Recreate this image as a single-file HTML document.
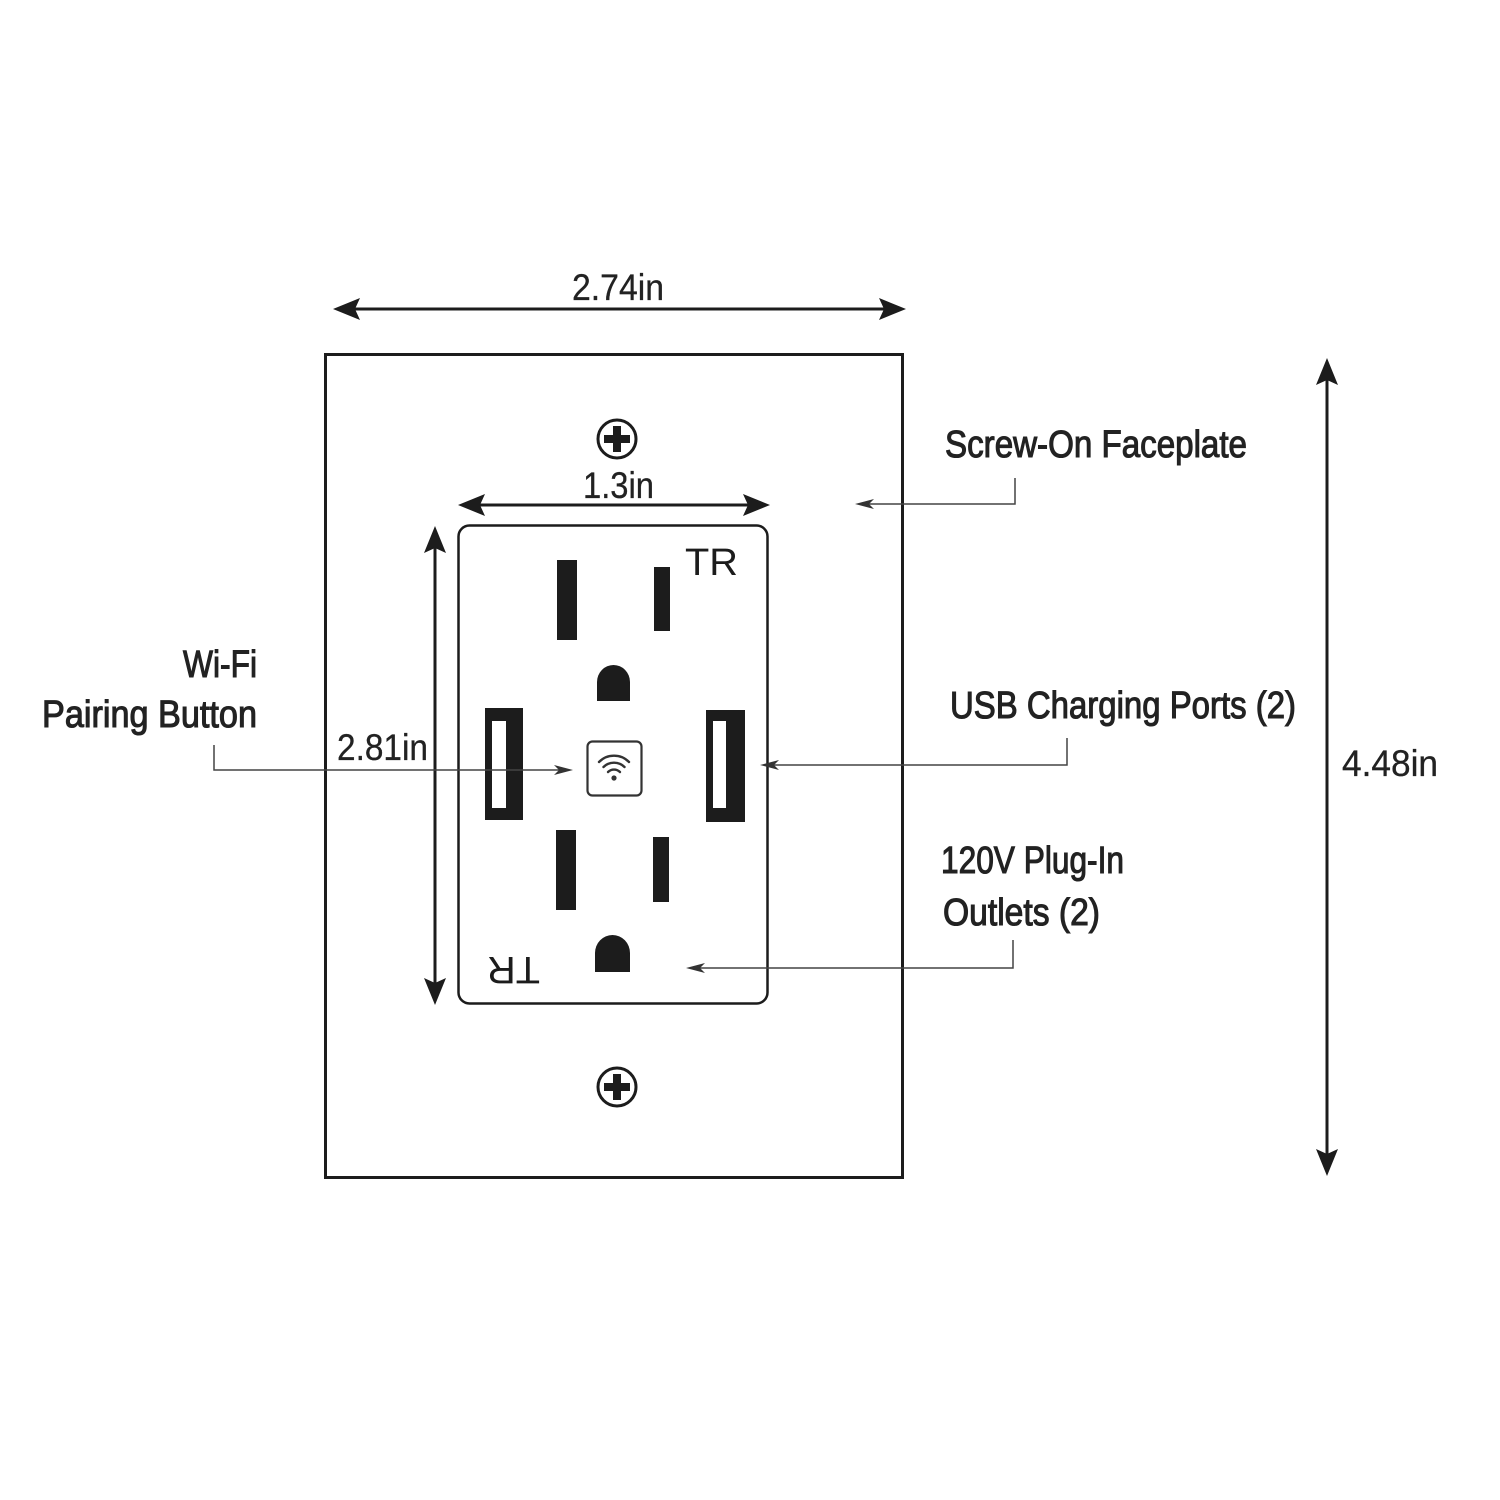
<!DOCTYPE html>
<html><head><meta charset="utf-8"><style>html,body{margin:0;padding:0;background:#fff}svg{display:block}</style></head>
<body>
<svg width="1500" height="1500" viewBox="0 0 1500 1500" xmlns="http://www.w3.org/2000/svg">
<g fill="#1c1c1c" stroke="none">
<line x1="345" y1="309" x2="894" y2="309" stroke="#1c1c1c" stroke-width="3"/>
<polygon points="333,309 360,298 355,309 360,320"/>
<polygon points="906,309 879,298 884,309 879,320"/>
<line x1="470" y1="505" x2="758" y2="505" stroke="#1c1c1c" stroke-width="3"/>
<polygon points="458,505 485,494 480,505 485,516"/>
<polygon points="770,505 743,494 748,505 743,516"/>
<line x1="1327" y1="370" x2="1327" y2="1164" stroke="#1c1c1c" stroke-width="3"/>
<polygon points="1327,358 1316,385 1327,380 1338,385"/>
<polygon points="1327,1176 1316,1149 1327,1154 1338,1149"/>
<line x1="435" y1="538" x2="435" y2="993" stroke="#1c1c1c" stroke-width="3"/>
<polygon points="435,526 424,553 435,548 446,553"/>
<polygon points="435,1005 424,978 435,983 446,978"/>
</g>
<rect x="325.5" y="354.5" width="577" height="823" fill="none" stroke="#1c1c1c" stroke-width="3"/>
<g>
<circle cx="617" cy="439" r="19" fill="none" stroke="#1c1c1c" stroke-width="3"/>
<rect x="613" y="426" width="8" height="26" fill="#1c1c1c"/><rect x="604" y="435" width="26" height="8" fill="#1c1c1c"/>
<circle cx="617" cy="1087" r="19" fill="none" stroke="#1c1c1c" stroke-width="3"/>
<rect x="613" y="1074" width="8" height="26" fill="#1c1c1c"/><rect x="604" y="1083" width="26" height="8" fill="#1c1c1c"/>
</g>
<rect x="458.5" y="525.5" width="309" height="478" rx="11" fill="none" stroke="#1c1c1c" stroke-width="2.5"/>
<g fill="#1c1c1c">
<rect x="557" y="560" width="20" height="80"/>
<rect x="654" y="567" width="16" height="64"/>
<path d="M597,701 V682 A16.5,17 0 0 1 630,682 V701 Z"/>
<rect x="556" y="830" width="20" height="80"/>
<rect x="653" y="837" width="16" height="65"/>
<path d="M595,972 V953 A17.5,18 0 0 1 630,953 V972 Z"/>
<rect x="485" y="708" width="38" height="112"/>
<rect x="706" y="710" width="39" height="112"/>
</g>
<rect x="492" y="721" width="14" height="87" fill="#fff"/>
<rect x="713" y="721" width="13" height="87" fill="#fff"/>
<rect x="587.5" y="741.5" width="54" height="54" rx="5" fill="#fff" stroke="#333" stroke-width="2.2"/>
<g fill="none" stroke="#333" stroke-width="2.4" stroke-linecap="round">
<path d="M599,762 A21,21 0 0 1 629,762"/>
<path d="M603.5,767 A15,15 0 0 1 624.5,767"/>
<path d="M608,772 A8.5,8.5 0 0 1 620,772"/>
</g>
<circle cx="614" cy="778" r="2.6" fill="#333"/>
<text x="685" y="575" font-family="Liberation Sans, sans-serif" font-size="38" fill="#1c1c1c" textLength="53" lengthAdjust="spacingAndGlyphs">TR</text>
<text transform="translate(540,955) rotate(180)" x="0" y="0" font-family="Liberation Sans, sans-serif" font-size="38" fill="#1c1c1c" textLength="53" lengthAdjust="spacingAndGlyphs" dy="-2">TR</text>
<g fill="none" stroke="#444" stroke-width="1.5">
<polyline points="1015,478 1015,504 862,504"/>
<polyline points="1067,738 1067,765 766,765"/>
<polyline points="1013,940 1013,968 692,968"/>
<polyline points="214,745 214,770 567,770"/>
</g>
<g fill="#333">
<polygon points="855,504 874,499 869,504 874,509"/>
<polygon points="760,765 779,760 774,765 779,770"/>
<polygon points="686,968 705,963 700,968 705,973"/>
<polygon points="573,770 554,765 559,770 554,775"/>
</g>
<g font-family="Liberation Sans Narrow, Liberation Sans, sans-serif" fill="#222" stroke="#222" stroke-width="1.1">
<text x="945" y="457" font-size="38" textLength="302" lengthAdjust="spacingAndGlyphs">Screw-On Faceplate</text>
<text x="950" y="718" font-size="38" textLength="346" lengthAdjust="spacingAndGlyphs">USB Charging Ports (2)</text>
<text x="941" y="873" font-size="38" textLength="183" lengthAdjust="spacingAndGlyphs">120V Plug-In</text>
<text x="943" y="925" font-size="38" textLength="157" lengthAdjust="spacingAndGlyphs">Outlets (2)</text>
<text x="183" y="677" font-size="38" textLength="74" lengthAdjust="spacingAndGlyphs">Wi-Fi</text>
<text x="42" y="727" font-size="38" textLength="215" lengthAdjust="spacingAndGlyphs">Pairing Button</text>
</g>
<g font-family="Liberation Sans Narrow, Liberation Sans, sans-serif" fill="#222" stroke="#222" stroke-width="0.3">
<text x="572" y="300" font-size="37" textLength="92" lengthAdjust="spacingAndGlyphs">2.74in</text>
<text x="583" y="498" font-size="37" textLength="71" lengthAdjust="spacingAndGlyphs">1.3in</text>
<text x="337" y="760" font-size="37" textLength="91" lengthAdjust="spacingAndGlyphs">2.81in</text>
<text x="1342" y="776" font-size="37" textLength="96" lengthAdjust="spacingAndGlyphs">4.48in</text>
</g>
</svg>
</body></html>
